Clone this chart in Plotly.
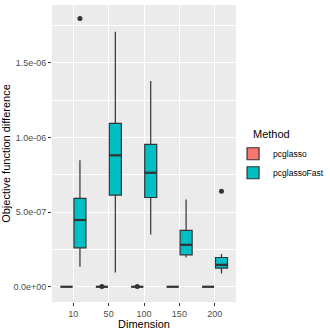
import plotly.graph_objects as go

# Dimension categories and tick labels
dims = ["10", "50", "100", "150", "200"]
y_tickvals = [0, 5e-7, 1e-6, 1.5e-6]
y_ticktext = ["0.0e+00", "5.0e-07", "1.0e-06", "1.5e-06"]
y_minor = [2.5e-7, 7.5e-7, 1.25e-6, 1.75e-6]

# pcglasso box statistics (all collapsed at zero)
pc_low = [0, 0, 0, 0, 0]
pc_q1 = [0, 0, 0, 0, 0]
pc_med = [0, 0, 0, 0, 0]
pc_q3 = [0, 0, 0, 0, 0]
pc_high = [0, 0, 0, 0, 0]
pc_out_dim = ["50", "100"]
pc_out_val = [2e-9, 2e-9]

# pcglassoFast box statistics
fast_low = [1.34e-7, 0.96e-7, 3.5e-7, 1.96e-7, 0.89e-7]
fast_q1 = [2.61e-7, 6.14e-7, 5.98e-7, 2.14e-7, 1.25e-7]
fast_med = [4.47e-7, 8.8e-7, 7.64e-7, 2.81e-7, 1.47e-7]
fast_q3 = [5.92e-7, 10.94e-7, 9.54e-7, 3.78e-7, 1.96e-7]
fast_high = [8.48e-7, 17.08e-7, 13.78e-7, 5.85e-7, 2.19e-7]
fast_out_dim = ["10", "200"]
fast_out_val = [17.97e-7, 6.39e-7]

colours = {'pcglasso': '#F8766D', 'pcglassoFast': '#00BFC4'}
dodge = 0.19
box_w = 0.34
outline = '#333333'

fig = go.Figure()

methods = [
    ('pcglasso', -dodge, pc_low, pc_q1, pc_med, pc_q3, pc_high,
     pc_out_dim, pc_out_val),
    ('pcglassoFast', dodge, fast_low, fast_q1, fast_med, fast_q3, fast_high,
     fast_out_dim, fast_out_val),
]

for name, off, low, q1, med, q3, high, out_dim, out_val in methods:
    pos = [i + 1 + off for i in range(len(dims))]
    fig.add_trace(go.Box(
        x=pos, q1=q1, median=med, q3=q3,
        lowerfence=low, upperfence=high,
        name=name, width=box_w, whiskerwidth=0,
        fillcolor=colours[name],
        line=dict(color=outline, width=1.2),
        boxpoints=False, hoverinfo='skip',
    ))
    # thicker median bar, as in ggplot
    mx, my = [], []
    for p, m in zip(pos, med):
        mx += [p - box_w / 2, p + box_w / 2, None]
        my += [m, m, None]
    fig.add_trace(go.Scatter(
        x=mx, y=my, mode='lines', line=dict(color=outline, width=2.2),
        showlegend=False, hoverinfo='skip'))
    # outliers
    fig.add_trace(go.Scatter(
        x=[dims.index(d) + 1 + off for d in out_dim], y=out_val,
        mode='markers', marker=dict(color=outline, size=5),
        showlegend=False, hoverinfo='skip'))

fig.update_layout(
    width=330, height=330,
    margin=dict(l=52, r=94, t=5, b=28, autoexpand=False),
    paper_bgcolor='white',
    plot_bgcolor='#EBEBEB',
    font=dict(family='Liberation Sans, Arial, sans-serif', color='black'),
    showlegend=True,
    legend=dict(
        font=dict(size=8.5, color='black'),
        x=0.984, xanchor='left', y=0.548, yanchor='top',
        bgcolor='rgba(0,0,0,0)', itemwidth=30, tracegroupgap=0,
    ),
    annotations=[dict(
        text='Method', x=(251 - 52) / 184, xref='paper',
        y=(330 - 28 - 133.5) / 297, yref='paper',
        showarrow=False, font=dict(size=11), xanchor='left', yanchor='middle',
    )],
    xaxis=dict(
        range=[0.4, 5.6], tickmode='array', automargin=False,
        tickvals=list(range(1, len(dims) + 1)), ticktext=dims,
        showgrid=True, gridcolor='white', gridwidth=1.1,
        zeroline=False, ticks='outside', ticklen=3, tickcolor='#333333',
        tickfont=dict(size=9, color='#4D4D4D'),
        title=dict(text='Dimension', font=dict(size=11), standoff=2),
    ),
    yaxis=dict(
        range=[-1.02e-7, 18.87e-7], tickmode='array', automargin=False,
        tickvals=y_tickvals, ticktext=y_ticktext,
        showgrid=True, gridcolor='white', gridwidth=1.1,
        minor=dict(tickvals=y_minor, showgrid=True, gridcolor='white',
                   gridwidth=0.5, ticks=''),
        zeroline=False, ticks='outside', ticklen=3, tickcolor='#333333',
        tickfont=dict(size=9, color='#4D4D4D'),
        title=dict(text='Objective function difference', font=dict(size=11),
                   standoff=4),
    ),
)

fig.write_html("out.html", config={'displayModeBar': False},
               post_script="document.body.style.margin='0';")
